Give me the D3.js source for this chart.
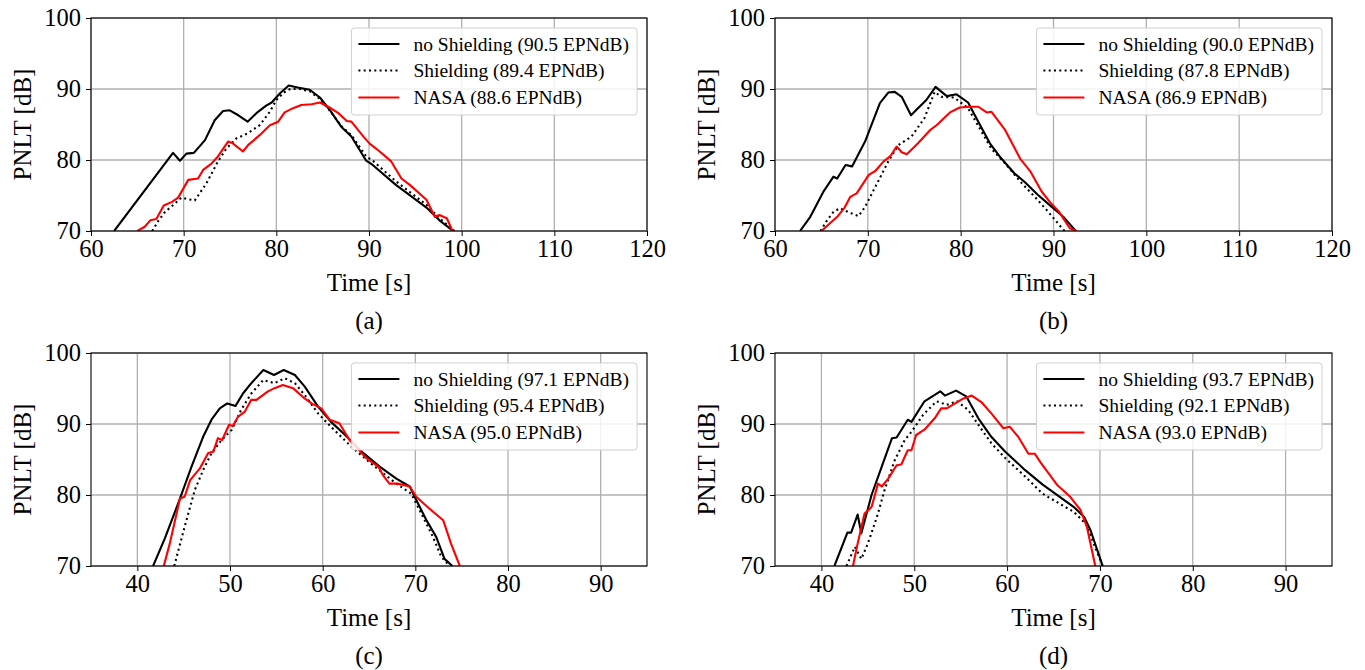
<!DOCTYPE html>
<html>
<head>
<meta charset="utf-8">
<script src="https://cdn.jsdelivr.net/npm/d3@7/dist/d3.min.js"></script>
<style>
  body { margin: 0; background: #fff; }
  svg { font-family: "Liberation Serif", "Times New Roman", serif; }
</style>
</head>
<body>
<svg width="1365" height="670"></svg>
<script>
// time [s], PNLT [dB]
const aNoShielding = [[62.5,70],[68.85,81.0],[69.6,79.9],[70.3,80.9],[71.1,81.0],[72.3,82.8],[73.35,85.6],[74.25,86.9],[74.97,87.0],[75.9,86.3],[76.9,85.4],[77.85,86.6],[78.9,87.65],[79.5,88.1],[80.4,89.4],[81.34,90.5],[82.3,90.2],[83.6,89.9],[84.7,88.8],[85.8,87.0],[87.0,84.7],[88.1,83.3],[89.7,79.9],[90.4,79.3],[92.9,76.5],[96.2,73.3],[97.6,71.5],[98.9,70.2],[99.2,70]];
const aShielding = [[66.6,70],[67.3,71.5],[68.0,72.7],[69.0,73.8],[69.75,74.7],[70.4,74.5],[71.2,74.3],[72.45,76.7],[73.7,79.8],[74.6,81.6],[75.7,83.05],[76.9,83.75],[78.2,84.9],[79.3,86.8],[80.0,88.45],[80.8,89.5],[81.5,90.0],[82.5,90.0],[83.6,89.7],[84.7,88.6],[85.8,86.9],[87.0,84.8],[88.1,83.5],[89.7,80.5],[90.5,79.8],[92.9,77.0],[96.2,73.7],[97.6,71.8],[98.9,70.4],[99.2,70]];
const aNasa = [[65.0,70],[65.8,70.6],[66.4,71.5],[67.05,71.7],[67.85,73.6],[68.75,74.1],[69.4,74.7],[70.5,77.2],[71.55,77.4],[72.1,78.6],[73.0,79.5],[73.7,80.5],[74.79,82.6],[75.3,82.35],[76.4,81.2],[76.95,82.1],[78.2,83.5],[79.3,84.9],[80.2,85.4],[80.9,86.7],[81.8,87.3],[82.7,87.75],[83.8,87.85],[84.7,88.1],[85.6,87.5],[86.7,86.6],[87.6,85.5],[88.1,85.4],[89.4,83.3],[90.07,82.3],[91.15,81.2],[92.4,79.8],[93.5,77.4],[94.4,76.5],[96.2,74.4],[97.1,72.0],[97.6,72.25],[98.4,71.8],[99.0,70]];

const bNoShielding = [[62.7,70],[63.8,72.0],[65.2,75.5],[66.3,77.65],[66.7,77.4],[67.6,79.3],[68.3,79.1],[69.7,82.6],[71.3,88.0],[72.2,89.5],[72.9,89.6],[73.65,88.9],[74.65,86.3],[75.4,87.3],[76.3,88.45],[77.3,90.3],[78.5,89.0],[79.55,89.25],[80.8,88.1],[81.9,85.4],[83.15,82.35],[84.2,80.5],[85.8,78.1],[86.9,76.9],[88.3,75.1],[89.6,73.65],[91.05,72.0],[92.4,70]];
const bShielding = [[64.9,70],[65.5,71.3],[66.3,72.7],[67.0,73.2],[68.0,72.6],[69.0,72.1],[69.7,73.4],[70.8,76.2],[72.2,79.8],[73.3,82.1],[74.7,83.3],[76.1,85.9],[77.2,89.6],[77.9,88.9],[79.3,88.8],[80.8,87.3],[82.25,84.0],[83.3,81.6],[84.8,79.5],[86.6,76.7],[88.0,74.8],[89.3,72.9],[90.85,70.5],[91.2,70]];
const bNasa = [[65.0,70],[66.7,72.0],[67.5,73.3],[68.1,74.8],[68.8,75.3],[70.1,77.9],[70.8,78.45],[71.7,79.8],[72.4,80.5],[73.1,81.9],[73.65,81.1],[74.2,80.8],[75.4,82.35],[76.7,84.2],[77.4,84.9],[78.85,86.7],[79.9,87.4],[81.0,87.5],[81.9,87.5],[82.8,86.7],[83.3,86.8],[84.8,84.2],[86.4,80.2],[87.5,78.4],[88.7,75.6],[89.6,74.1],[90.6,72.7],[91.75,70.4],[92.5,70]];

const cNoShielding = [[41.7,70],[42.97,73.9],[44.4,78.8],[45.85,84.0],[47.1,88.2],[48.0,90.6],[48.9,92.2],[49.7,92.9],[50.6,92.55],[51.4,94.3],[52.3,95.75],[53.6,97.6],[54.75,96.9],[55.8,97.6],[57.0,96.9],[58.05,95.3],[59.5,92.45],[60.9,90.3],[62.4,88.5],[64.3,86.0],[66.15,84.0],[67.95,82.3],[69.4,81.2],[70.1,79.3],[71.2,76.45],[72.25,74.1],[73.15,71.0],[74.0,70]];
const cShielding = [[43.98,70],[45.1,75.5],[46.2,80.7],[47.1,83.5],[48.0,85.9],[49.1,87.75],[50.2,89.2],[51.2,92.0],[52.3,94.3],[53.6,96.2],[54.8,95.75],[55.9,96.45],[57.0,95.75],[58.05,94.1],[59.5,91.5],[60.9,89.6],[63.1,86.8],[65.2,84.45],[67.95,81.6],[69.55,80.2],[70.45,77.9],[71.9,74.1],[72.8,71.3],[73.7,70]];
const cNasa = [[42.85,70],[43.5,73.15],[44.6,79.5],[45.1,79.75],[45.7,82.1],[46.75,83.75],[47.65,85.9],[48.2,86.1],[48.7,88.0],[49.15,87.75],[49.9,89.9],[50.3,89.7],[50.85,91.0],[51.6,91.75],[52.3,93.4],[52.85,93.4],[54.1,94.6],[54.8,95.05],[55.7,95.5],[56.8,95.05],[58.05,93.6],[58.8,92.9],[59.85,92.2],[60.75,90.6],[61.8,90.1],[62.9,87.75],[64.7,85.2],[66.0,84.0],[66.5,82.8],[67.2,81.6],[68.1,81.6],[69.4,81.2],[70.1,79.75],[71.5,78.1],[73.0,76.45],[73.85,73.15],[74.8,70]];

const dNoShielding = [[41.4,70],[42.8,74.7],[43.2,74.7],[43.9,77.25],[44.3,74.6],[45.4,80.0],[46.5,84.0],[47.6,88.0],[48.1,88.1],[49.3,90.6],[49.7,90.3],[51.1,93.2],[52.8,94.6],[53.3,94.0],[54.5,94.7],[55.6,93.9],[56.9,90.8],[58.3,88.2],[59.8,86.1],[61.95,83.5],[63.8,81.5],[67.2,78.3],[68.3,76.9],[69.0,75.0],[70.3,70]];
const dShielding = [[42.7,70],[43.6,72.7],[44.3,71.0],[45.0,73.15],[46.1,77.4],[46.8,80.7],[47.9,84.9],[48.98,87.75],[49.7,88.9],[50.96,91.3],[52.4,93.2],[53.5,92.7],[54.6,93.2],[55.8,92.0],[56.9,89.9],[58.3,87.3],[59.8,85.2],[61.95,82.6],[63.8,80.2],[67.2,77.6],[68.5,75.9],[70.3,70]];
const dNasa = [[43.4,70],[43.9,73.15],[44.65,77.4],[45.4,78.3],[46.1,81.6],[46.5,81.2],[47.2,82.3],[48.1,84.2],[48.6,84.3],[49.3,86.3],[49.7,86.3],[50.2,88.45],[51.1,89.2],[52.2,90.8],[52.9,92.2],[53.5,92.2],[54.4,92.9],[55.3,93.6],[56.2,94.0],[57.3,93.0],[58.3,91.5],[59.6,89.4],[60.3,89.6],[61.2,88.2],[62.3,85.8],[63.0,85.8],[63.6,84.6],[64.5,83.0],[65.4,81.4],[66.8,79.75],[67.9,77.9],[68.6,75.5],[69.5,70]];

// legend texts
const aLabels = ["no Shielding (90.5 EPNdB)", "Shielding (89.4 EPNdB)", "NASA (88.6 EPNdB)"];
const bLabels = ["no Shielding (90.0 EPNdB)", "Shielding (87.8 EPNdB)", "NASA (86.9 EPNdB)"];
const cLabels = ["no Shielding (97.1 EPNdB)", "Shielding (95.4 EPNdB)", "NASA (95.0 EPNdB)"];
const dLabels = ["no Shielding (93.7 EPNdB)", "Shielding (92.1 EPNdB)", "NASA (93.0 EPNdB)"];

// axes
const topDomainX = [60, 120];
const topTicksX = [60, 70, 80, 90, 100, 110, 120];
const bottomDomainX = [35, 95];
const bottomTicksX = [40, 50, 60, 70, 80, 90];
const domainY = [70, 100];
const ticksY = [70, 80, 90, 100];
const captions = ["(a)", "(b)", "(c)", "(d)"];

// line styles: no shielding, shielding, NASA
const styles = [
  {color: "#000", dash: null},
  {color: "#000", dash: "2,3.3"},
  {color: "#ff0000", dash: null}
];

const svg = d3.select("svg");

function drawPanel(id, area, series, labels, xDomain, xTicks, caption) {
  const w = area.right - area.left;
  const h = area.bottom - area.top;
  const scX = d3.scaleLinear().domain(xDomain).range([0, w]);
  const scY = d3.scaleLinear().domain(domainY).range([h, 0]);
  const g = svg.append("g").attr("transform", `translate(${area.left}, ${area.top})`);

  svg.append("clipPath").attr("id", "clip" + id)
    .append("rect").attr("width", w).attr("height", h);

  // grid
  g.append("g").selectAll("line").data(xTicks).enter().append("line")
    .attr("x1", d => scX(d)).attr("x2", d => scX(d))
    .attr("y1", 0).attr("y2", h)
    .style("stroke", "#b0b0b0").style("stroke-width", 1.3);
  g.append("g").selectAll("line").data(ticksY).enter().append("line")
    .attr("x1", 0).attr("x2", w)
    .attr("y1", d => scY(d)).attr("y2", d => scY(d))
    .style("stroke", "#b0b0b0").style("stroke-width", 1.3);

  // curves
  const line = d3.line().x(d => scX(d[0])).y(d => scY(d[1]));
  const curves = g.append("g").attr("clip-path", `url(#clip${id})`);
  series.forEach((s, i) => {
    curves.append("path")
      .attr("d", line(s))
      .style("fill", "none")
      .style("stroke", styles[i].color)
      .style("stroke-width", 2.1)
      .style("stroke-linejoin", "round")
      .style("stroke-dasharray", styles[i].dash);
  });

  // axes
  const axisX = d3.axisBottom(scX).tickValues(xTicks).tickSize(5).tickPadding(4).tickSizeOuter(0);
  const axisY = d3.axisLeft(scY).tickValues(ticksY).tickSize(5).tickPadding(5).tickSizeOuter(0);
  const gx = g.append("g").attr("transform", `translate(0, ${h})`).call(axisX);
  const gy = g.append("g").call(axisY);
  [gx, gy].forEach(a => {
    a.select(".domain").remove();
    a.selectAll("text").style("font-family", "Liberation Serif").style("font-size", "24.5px").style("fill", "#000");
    a.selectAll("line").style("stroke", "#000");
  });

  // frame
  g.append("rect").attr("width", w).attr("height", h)
    .style("fill", "none").style("stroke", "#000").style("stroke-width", 1.1);

  // legend
  const leg = g.append("g");
  const box = leg.append("rect");
  const rowsY = [16, 42.4, 69.4];
  let maxLen = 0;
  labels.forEach((lab, i) => {
    leg.append("line")
      .attr("x1", 7).attr("x2", 48).attr("y1", rowsY[i]).attr("y2", rowsY[i])
      .style("stroke", styles[i].color).style("stroke-width", 2)
      .style("stroke-dasharray", styles[i].dash);
    const t = leg.append("text")
      .attr("x", 62).attr("y", rowsY[i]).attr("dy", "0.35em")
      .style("font-size", "19.5px")
      .text(lab);
    maxLen = Math.max(maxLen, t.node().getComputedTextLength());
  });
  const legW = 62 + maxLen + 8;
  box.attr("width", legW).attr("height", 87).attr("rx", 3)
    .style("fill", "#fff").style("fill-opacity", 0.85)
    .style("stroke", "#d0d0d0").style("stroke-width", 1);
  leg.attr("transform", `translate(${w - 10 - legW}, 10)`);

  // labels
  g.append("text").attr("x", w / 2).attr("y", h + 51)
    .attr("dy", "0.35em").attr("text-anchor", "middle")
    .style("font-size", "25px").text("Time [s]");
  g.append("text").attr("transform", `translate(${-69}, ${h / 2}) rotate(-90)`)
    .attr("dy", "0.35em").attr("text-anchor", "middle")
    .style("font-size", "25px").text("PNLT [dB]");
  g.append("text").attr("x", w / 2).attr("y", h + 89)
    .attr("dy", "0.35em").attr("text-anchor", "middle")
    .style("font-size", "25px").text(caption);
}

const areaA = {left: 91, right: 647, top: 18, bottom: 231};
const areaB = {left: 775, right: 1332, top: 18, bottom: 231};
const areaC = {left: 91, right: 647, top: 353, bottom: 566};
const areaD = {left: 775, right: 1332, top: 353, bottom: 566};

drawPanel("a", areaA, [aNoShielding, aShielding, aNasa], aLabels, topDomainX, topTicksX, captions[0]);
drawPanel("b", areaB, [bNoShielding, bShielding, bNasa], bLabels, topDomainX, topTicksX, captions[1]);
drawPanel("c", areaC, [cNoShielding, cShielding, cNasa], cLabels, bottomDomainX, bottomTicksX, captions[2]);
drawPanel("d", areaD, [dNoShielding, dShielding, dNasa], dLabels, bottomDomainX, bottomTicksX, captions[3]);
</script>
</body>
</html>
